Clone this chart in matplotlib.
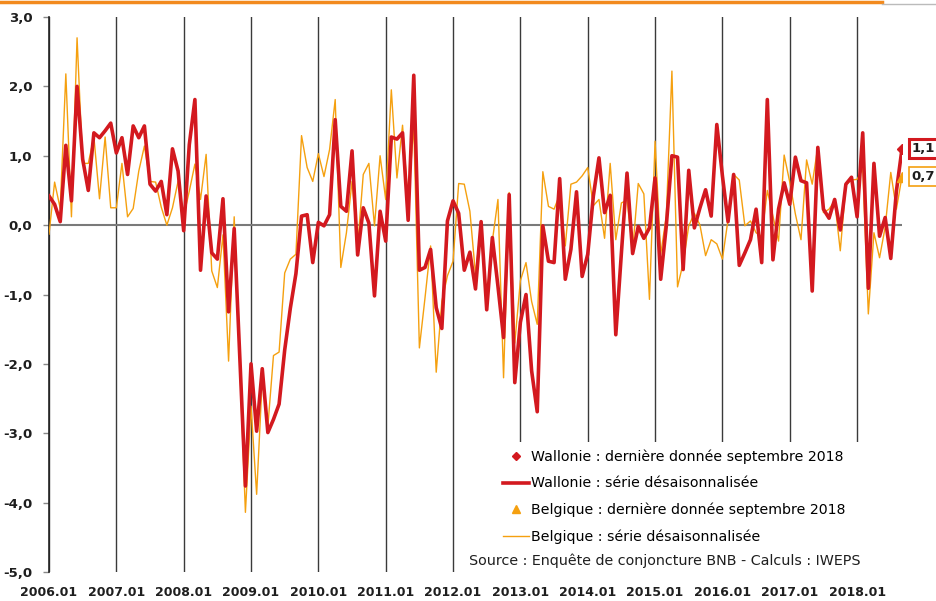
import matplotlib
matplotlib.use("Agg")
import matplotlib.pyplot as plt
from matplotlib.lines import Line2D
from matplotlib.patches import Rectangle

# mois de 2006.01 a 2018.09 (153 valeurs)
wallonie = [
    0.42, 0.30, 0.05, 1.15, 0.35, 2.00, 0.95, 0.50, 1.33, 1.26, 1.36, 1.47,
    1.04, 1.26, 0.73, 1.43, 1.26, 1.43, 0.59, 0.49, 0.63, 0.15, 1.10, 0.78,
    -0.08, 1.16, 1.81, -0.65, 0.42, -0.40, -0.49, 0.38, -1.25, -0.05, -1.90, -3.76,
    -2.00, -2.97, -2.07, -2.99, -2.80, -2.58, -1.80, -1.20, -0.70, 0.13, 0.15, -0.54,
    0.04, -0.01, 0.15, 1.52, 0.27, 0.20, 1.07, -0.43, 0.25, 0.03, -1.02, 0.20,
    -0.23, 1.27, 1.24, 1.33, 0.07, 2.16, -0.65, -0.61, -0.35, -1.19, -1.49, 0.06,
    0.35, 0.17, -0.65, -0.39, -0.92, 0.05, -1.22, -0.18, -0.88, -1.62, 0.44, -2.27,
    -1.40, -1.00, -2.10, -2.69, -0.01, -0.52, -0.54, 0.67, -0.78, -0.35, 0.48, -0.74,
    -0.42, 0.42, 0.97, 0.18, 0.43, -1.58, -0.40, 0.75, -0.41, -0.02, -0.19, -0.04,
    0.68, -0.78, -0.01, 1.00, 0.98, -0.64, 0.79, -0.04, 0.25, 0.51, 0.13, 1.45,
    0.71, 0.05, 0.73, -0.58, -0.40, -0.21, 0.23, -0.54, 1.81, -0.50, 0.23, 0.61,
    0.30, 0.98, 0.64, 0.61, -0.95, 1.12, 0.23, 0.10, 0.37, -0.07, 0.59, 0.69,
    0.12, 1.33, -0.91, 0.89, -0.16, 0.11, -0.48, 0.49, 1.10,
]

belgique = [
    -0.13, 0.62, 0.24, 2.18, 0.12, 2.70, 0.89, 0.89, 1.27, 0.38, 1.27, 0.25,
    0.25, 0.89, 0.12, 0.24, 0.78, 1.14, 0.63, 0.62, 0.26, 0.00, 0.25, 0.63,
    0.13, 0.49, 0.88, 0.37, 1.02, -0.66, -0.90, -0.14, -1.96, 0.12, -2.00, -4.14,
    -2.61, -3.88, -2.22, -2.90, -1.88, -1.83, -0.69, -0.49, -0.42, 1.29, 0.83, 0.63,
    1.03, 0.70, 1.09, 1.81, -0.61, -0.11, 0.63, -0.30, 0.73, 0.89, -0.01, 1.00,
    0.37, 1.95, 0.68, 1.44, 0.31, 1.45, -1.77, -1.05, -0.30, -2.12, -1.10, -0.73,
    -0.52, 0.60, 0.59, 0.20, -0.71, 0.02, -1.05, -0.23, 0.37, -2.20, 0.47, -1.70,
    -0.80, -0.54, -1.10, -1.43, 0.77, 0.27, 0.23, 0.44, -0.30, 0.59, 0.62, 0.71,
    0.83, 0.28, 0.37, -0.19, 0.89, -0.21, 0.32, 0.36, -0.37, 0.60, 0.45, -1.07,
    1.21, -0.42, 0.13, 2.22, -0.89, -0.55, -0.01, 0.17, 0.00, -0.44, -0.21, -0.27,
    -0.49, 0.08, 0.73, 0.65, -0.01, 0.06, -0.11, -0.16, 0.50, 0.13, -0.23, 1.01,
    0.62, 0.16, -0.21, 0.94, 0.59, 1.13, 0.18, 0.23, 0.35, -0.37, 0.58, 0.65,
    0.66, 0.81, -1.28, -0.11, -0.47, -0.03, 0.76, 0.23, 0.70,
]

annees = ["2006.01", "2007.01", "2008.01", "2009.01", "2010.01", "2011.01", "2012.01",
          "2013.01", "2014.01", "2015.01", "2016.01", "2017.01", "2018.01"]
y_ticks = [3, 2, 1, 0, -1, -2, -3, -4, -5]

ROUGE = "#d3191f"
ORANGE = "#f5a00f"
TEXTE = "#1e1e1e"


def main():
    plt.rcParams["font.family"] = ["DejaVu Sans"]
    fig = plt.figure(figsize=(9.37, 6.01), dpi=100)
    ax = fig.add_axes([49 / 937, 29 / 601, 853 / 937, 555 / 601])

    x = list(range(len(wallonie)))
    ax.plot(x, belgique, color=ORANGE, lw=1.0, zorder=3)
    ax.plot(x, wallonie, color=ROUGE, lw=2.6, zorder=4)
    ax.plot(x[-1], belgique[-1], marker="^", color=ORANGE, ms=7, zorder=5)
    ax.plot(x[-1], wallonie[-1], marker="D", color=ROUGE, ms=5, zorder=5)

    ax.axhline(0, color="#7a7a7a", lw=1.5, zorder=2)

    # etiquettes des dernieres valeurs
    ax.annotate(f"{wallonie[-1]:.1f}".replace(".", ","), (x[-1], wallonie[-1]),
                xytext=(7, 0), textcoords="offset points", va="center", ha="left",
                fontsize=9.5, fontweight="bold", color=TEXTE, annotation_clip=False,
                bbox=dict(boxstyle="square,pad=0.22", fc="white", ec=ROUGE, lw=2.2))
    ax.annotate(f"{belgique[-1]:.1f}".replace(".", ","), (x[-1], belgique[-1]),
                xytext=(7, 0), textcoords="offset points", va="center", ha="left",
                fontsize=9.5, fontweight="bold", color=TEXTE, annotation_clip=False,
                bbox=dict(boxstyle="square,pad=0.22", fc="white", ec=ORANGE, lw=1.2))

    ax.set_xlim(0, len(wallonie) - 1)
    ax.set_ylim(-5, 3)
    ax.set_xticks(range(0, len(wallonie), 12))
    ax.set_xticklabels(annees, fontsize=9, fontweight="bold", color=TEXTE)
    ax.set_yticks(y_ticks)
    ax.set_yticklabels([f"{v:.1f}".replace(".", ",") for v in y_ticks],
                       fontsize=9.5, fontweight="bold", color=TEXTE)
    ax.tick_params(axis="x", length=0, pad=10)
    ax.tick_params(axis="y", length=4, width=1, color="#888888", pad=8)
    ax.grid(axis="x", color="#3a3a3a", lw=1.0)
    ax.set_axisbelow(True)
    for s in ["top", "right", "bottom"]:
        ax.spines[s].set_visible(False)
    ax.spines["left"].set_color("#222222")
    ax.spines["left"].set_linewidth(1.2)

    # fond blanc sous la legende
    ax.add_patch(Rectangle((0.489, 0), 0.52, 0.234, transform=ax.transAxes,
                           fc="white", ec="none", zorder=1.5, clip_on=False))

    handles = [
        Line2D([], [], color=ROUGE, marker="D", ms=4, lw=0),
        Line2D([], [], color=ROUGE, lw=2.6),
        Line2D([], [], color=ORANGE, marker="^", ms=6, lw=0),
        Line2D([], [], color=ORANGE, lw=1.0),
    ]
    labels = [
        "Wallonie : dernière donnée septembre 2018",
        "Wallonie : série désaisonnalisée",
        "Belgique : dernière donnée septembre 2018",
        "Belgique : série désaisonnalisée",
    ]
    ax.legend(handles, labels, loc="upper left", bbox_to_anchor=(497 / 937, 1 - 444 / 601),
              bbox_transform=fig.transFigure, frameon=False, fontsize=10.2,
              handlelength=1.85, handletextpad=0.15, labelspacing=0.87,
              borderpad=0.4, borderaxespad=0)
    ax.text(469 / 937, 1 - 561 / 601, "Source : Enquête de conjoncture BNB - Calculs : IWEPS",
            transform=fig.transFigure, fontsize=10.3, color=TEXTE, va="center", ha="left")

    # filet decoratif en haut
    fig.add_artist(Line2D([0, 0.941], [0.9975, 0.9975], color="#f28a1e", lw=2.5))
    fig.add_artist(Line2D([0.941, 1], [0.994, 0.994], color="#bbbbbb", lw=1))

    fig.savefig("out.png", dpi=100)


if __name__ == "__main__":
    main()
